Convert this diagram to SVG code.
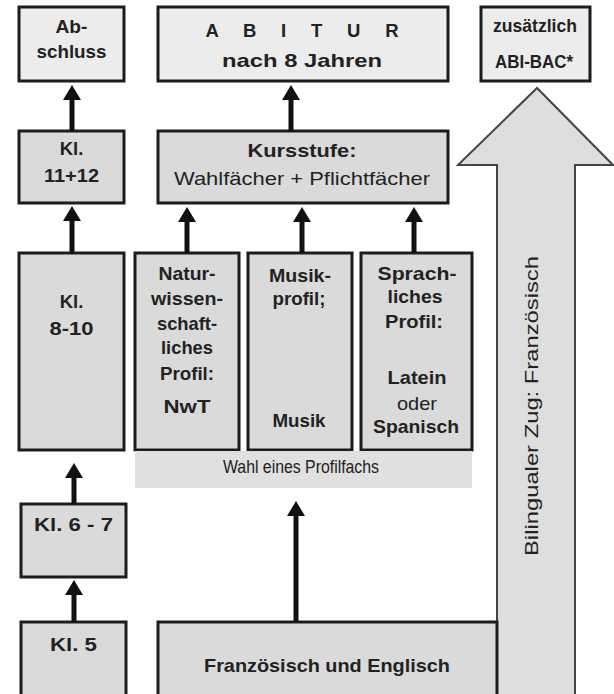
<svg xmlns="http://www.w3.org/2000/svg" width="614" height="694" viewBox="0 0 614 694">
<style>
  .box{fill:#dadada;stroke:#1c1c1c;stroke-width:3}
  .lt{fill:#ececec;stroke:#1c1c1c;stroke-width:3}
  .t{font-family:"Liberation Sans",Arial,sans-serif;font-weight:bold;font-size:18.5px;fill:#222;text-anchor:middle}
  .n{font-weight:normal}
  .con{stroke:#111;stroke-width:5;fill:none}
</style>
<defs>
  <marker id="ah" viewBox="0 0 15 18" refX="1" refY="9" markerWidth="15" markerHeight="18" markerUnits="userSpaceOnUse" orient="auto">
    <path d="M0,0 L15,9 L0,18 Z" fill="#111"/>
  </marker>
</defs>
<rect width="614" height="694" fill="#fff"/>

<g id="bilingual">
  <polygon points="537,88 458,165 497,165 497,700 575,700 575,165 613,165" fill="#dedede" stroke="#444" stroke-width="2"/>
  <text class="t n" transform="translate(538,406) rotate(-90)" font-size="20" fill="#333" textLength="300" lengthAdjust="spacingAndGlyphs">Bilingualer Zug: Französisch</text>
</g>

<g id="abschluss">
  <rect class="lt" x="19" y="7" width="105" height="74"/>
  <text class="t" x="71.5" y="33" textLength="32" lengthAdjust="spacingAndGlyphs">Ab-</text>
  <text class="t" x="71.5" y="58" textLength="70" lengthAdjust="spacingAndGlyphs">schluss</text>
</g>
<g id="abitur">
  <rect class="lt" x="158" y="7" width="290" height="74"/>
  <text class="t" x="302" y="37" font-size="21.5" textLength="193" lengthAdjust="spacing">A B I T U R</text>
  <text class="t" x="302" y="67" font-size="22.5" textLength="160" lengthAdjust="spacingAndGlyphs">nach 8 Jahren</text>
</g>
<g id="zusaetzlich">
  <rect class="lt" x="481" y="7" width="109" height="74"/>
  <text class="t" x="535" y="32" font-size="15" textLength="84" lengthAdjust="spacingAndGlyphs">zusätzlich</text>
  <text class="t" x="534" y="68" font-size="14" textLength="78" lengthAdjust="spacingAndGlyphs">ABI-BAC*</text>
</g>
<g id="kl11">
  <rect class="box" x="19" y="131" width="105" height="72"/>
  <text class="t" x="71.5" y="155">Kl.</text>
  <text class="t" x="71.5" y="182" textLength="55" lengthAdjust="spacingAndGlyphs">11+12</text>
</g>
<g id="kursstufe">
  <rect class="box" x="158" y="131" width="290" height="72"/>
  <text class="t" x="302" y="157" font-size="20.5" textLength="109" lengthAdjust="spacingAndGlyphs">Kursstufe:</text>
  <text class="t n" x="302" y="185" font-size="20.5" textLength="256" lengthAdjust="spacingAndGlyphs">Wahlfächer + Pflichtfächer</text>
</g>
<g id="kl8">
  <rect class="box" x="19" y="253" width="105" height="197"/>
  <text class="t" x="71.5" y="308">Kl.</text>
  <text class="t" x="71.5" y="335" textLength="44" lengthAdjust="spacingAndGlyphs">8-10</text>
</g>
<g id="natur">
  <rect class="box" x="135" y="253" width="104" height="197"/>
  <text class="t" x="187" y="280" textLength="57" lengthAdjust="spacingAndGlyphs">Natur-</text>
  <text class="t" x="187" y="305" textLength="72" lengthAdjust="spacingAndGlyphs">wissen-</text>
  <text class="t" x="187" y="330" textLength="60" lengthAdjust="spacingAndGlyphs">schaft-</text>
  <text class="t" x="187" y="354" textLength="52" lengthAdjust="spacingAndGlyphs">liches</text>
  <text class="t" x="187" y="380" textLength="54" lengthAdjust="spacingAndGlyphs">Profil:</text>
  <text class="t" x="187" y="413" textLength="47" lengthAdjust="spacingAndGlyphs">NwT</text>
</g>
<g id="musik">
  <rect class="box" x="248" y="253" width="104" height="197"/>
  <text class="t" x="300" y="282" textLength="62" lengthAdjust="spacingAndGlyphs">Musik-</text>
  <text class="t" x="299" y="305" textLength="53" lengthAdjust="spacingAndGlyphs">profil;</text>
  <text class="t" x="299" y="427" textLength="53" lengthAdjust="spacingAndGlyphs">Musik</text>
</g>
<g id="sprach">
  <rect class="box" x="361" y="253" width="111" height="197"/>
  <text class="t" x="417" y="280" textLength="79" lengthAdjust="spacingAndGlyphs">Sprach-</text>
  <text class="t" x="415" y="303" textLength="55" lengthAdjust="spacingAndGlyphs">liches</text>
  <text class="t" x="414" y="328" textLength="58" lengthAdjust="spacingAndGlyphs">Profil:</text>
  <text class="t" x="417" y="384" textLength="59" lengthAdjust="spacingAndGlyphs">Latein</text>
  <text class="t n" x="417" y="410" textLength="40" lengthAdjust="spacingAndGlyphs">oder</text>
  <text class="t" x="416" y="433" textLength="86" lengthAdjust="spacingAndGlyphs">Spanisch</text>
</g>
<g id="wahl">
  <rect x="135" y="451" width="337" height="37" fill="#e0e0e0"/>
  <text class="t n" x="301" y="473" font-size="14" fill="#555" textLength="156" lengthAdjust="spacingAndGlyphs">Wahl eines Profilfachs</text>
</g>
<g id="kl6">
  <rect class="box" x="21" y="504" width="105" height="73"/>
  <text class="t" x="73.5" y="531" textLength="79" lengthAdjust="spacingAndGlyphs">Kl. 6 - 7</text>
</g>
<g id="kl5">
  <rect class="box" x="21" y="622" width="105" height="80"/>
  <text class="t" x="73.5" y="651" textLength="47" lengthAdjust="spacingAndGlyphs">Kl. 5</text>
</g>
<g id="franz">
  <rect class="box" x="158" y="622" width="339" height="80"/>
  <text class="t" x="327" y="672" textLength="246" lengthAdjust="spacingAndGlyphs">Französisch und Englisch</text>
</g>

<g id="connectors">
  <line class="con" x1="72" y1="131" x2="72" y2="99" marker-end="url(#ah)"/>
  <line class="con" x1="72" y1="253" x2="72" y2="220" marker-end="url(#ah)"/>
  <line class="con" x1="291" y1="131" x2="291" y2="99" marker-end="url(#ah)"/>
  <line class="con" x1="187" y1="253" x2="187" y2="221" marker-end="url(#ah)"/>
  <line class="con" x1="302" y1="253" x2="302" y2="221" marker-end="url(#ah)"/>
  <line class="con" x1="414" y1="253" x2="414" y2="221" marker-end="url(#ah)"/>
  <line class="con" x1="74" y1="504" x2="74" y2="477" marker-end="url(#ah)"/>
  <line class="con" x1="74" y1="622" x2="74" y2="594" marker-end="url(#ah)"/>
  <line class="con" x1="296" y1="622" x2="296" y2="515" marker-end="url(#ah)"/>
</g>
</svg>
